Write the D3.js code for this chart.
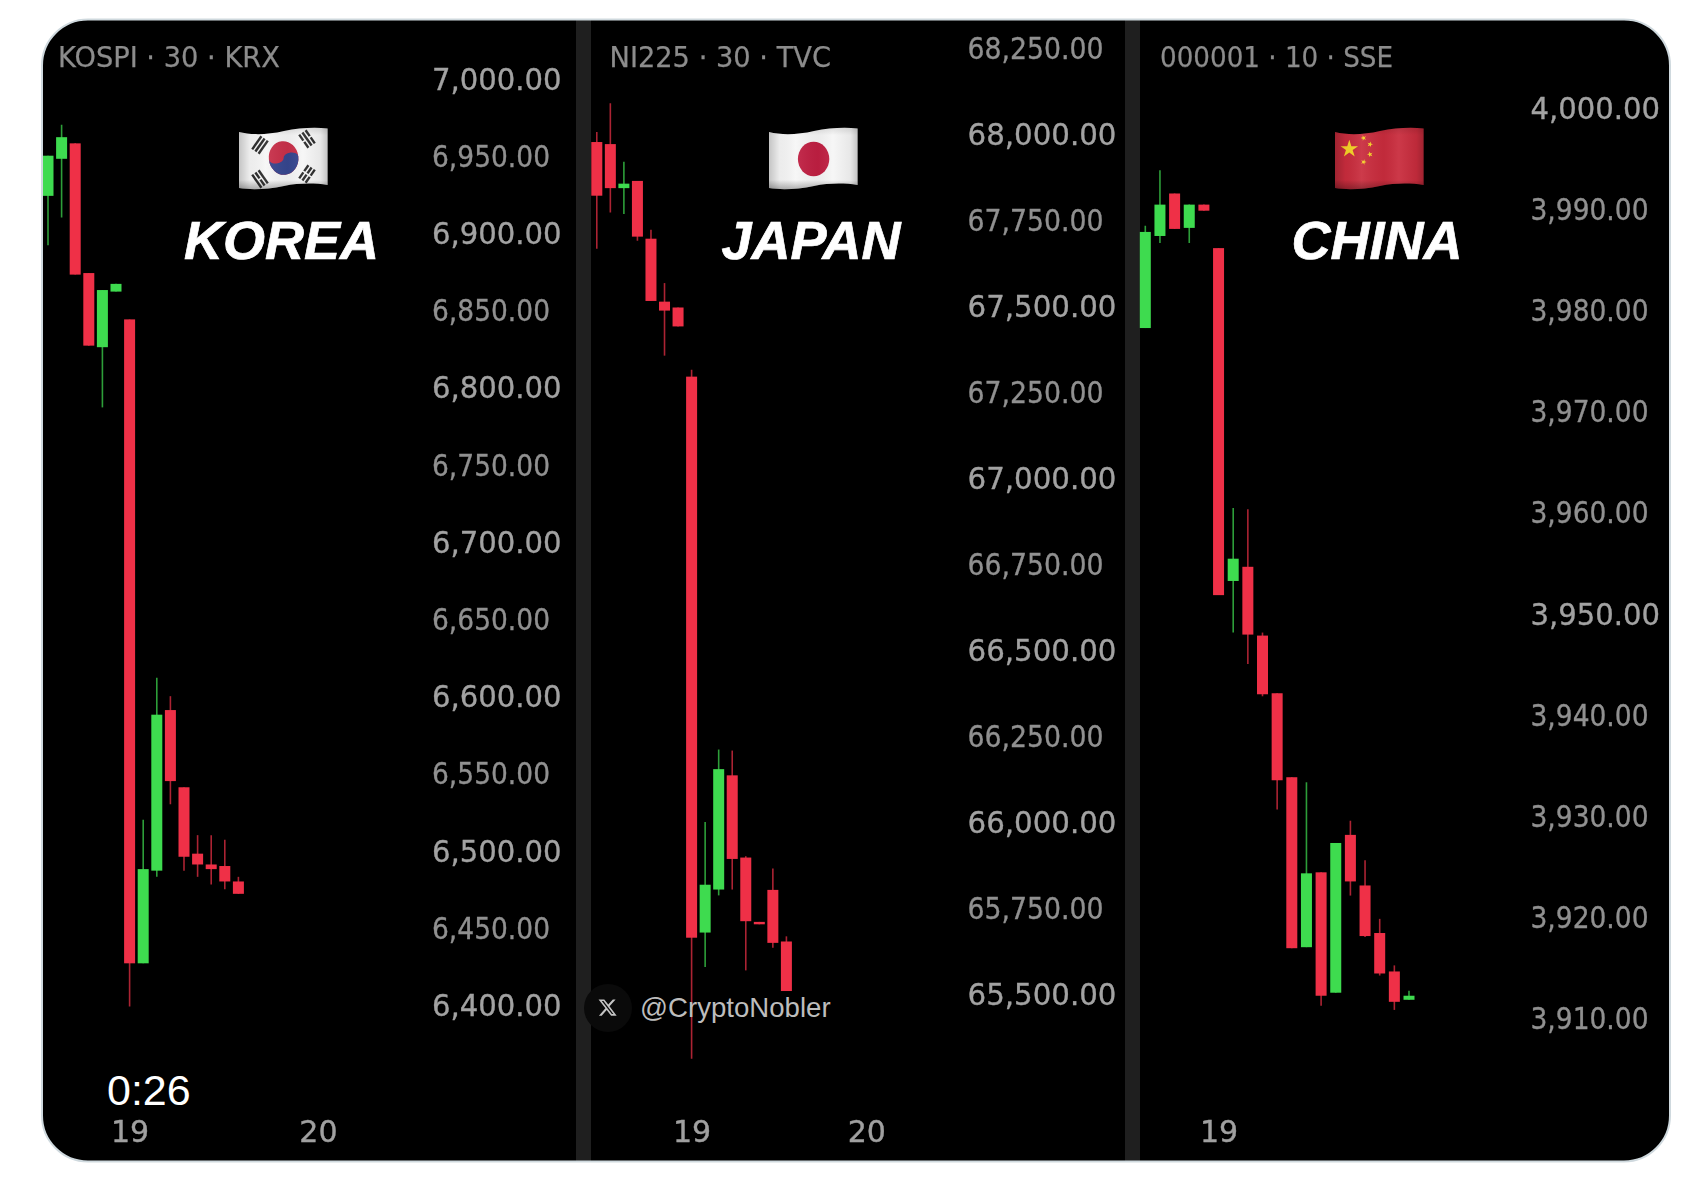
<!DOCTYPE html>
<html>
<head>
<meta charset="utf-8">
<script src="https://cdn.jsdelivr.net/npm/d3@7/dist/d3.min.js"></script>
<style>
  html, body { margin: 0; padding: 0; background: #fff; }
  svg { display: block; }
  text { font-family: "DejaVu Sans", sans-serif; }
  .soft { filter: blur(0.45px); }
</style>
</head>
<body>
<svg id="chart" width="1686" height="1178"></svg>
<script>
// KOSPI 30m
const koreaOpen  = [6924, 6948, 6958, 6874, 6826, 6862, 6844, 6427, 6487, 6591, 6541, 6498, 6491, 6490, 6480]
const koreaClose = [6950, 6962, 6873, 6827, 6863, 6867, 6427, 6488, 6588, 6545, 6496, 6491, 6488, 6480, 6472]
const koreaHigh  = [6950, 6970, 6958, 6874, 6863, 6867, 6844, 6520, 6612, 6600, 6541, 6510, 6510, 6507, 6483]
const koreaLow   = [6892, 6910, 6873, 6827, 6787, 6862, 6399, 6427, 6483, 6530, 6487, 6483, 6478, 6475, 6472]
const koreaTicks = [7000, 6950, 6900, 6850, 6800, 6750, 6700, 6650, 6600, 6550, 6500, 6450, 6400]

// NI225 30m
const japanOpen  = [67981, 67975, 67847, 67868, 67700, 67517, 67500, 67299, 65683, 65808, 66140, 65901, 65714, 65807, 65657]
const japanClose = [67825, 67847, 67860, 67706, 67519, 67491, 67445, 65668, 65822, 66158, 65897, 65716, 65707, 65653, 65513]
const japanHigh  = [68010, 68094, 67924, 67868, 67726, 67571, 67500, 67319, 66004, 66215, 66212, 65905, 65714, 65869, 65672]
const japanLow   = [67671, 67776, 67772, 67694, 67519, 67360, 67445, 65316, 65583, 65791, 65808, 65573, 65707, 65639, 65513]
const japanTicks = [68250, 68000, 67750, 67500, 67250, 67000, 66750, 66500, 66250, 66000, 65750, 65500]

// SSE composite 10m
const chinaOpen  = [3978.2, 3987.3, 3991.5, 3988.1, 3990.4, 3986.1, 3953.2, 3954.6, 3947.8, 3942.1, 3933.8, 3917.0, 3924.4, 3912.5, 3928.1, 3923.1, 3918.4, 3914.6, 3911.8]
const chinaClose = [3987.7, 3990.4, 3988.0, 3990.4, 3989.8, 3951.8, 3955.4, 3947.9, 3942.0, 3933.5, 3916.9, 3924.3, 3912.2, 3927.3, 3923.5, 3918.1, 3914.4, 3911.6, 3912.2]
const chinaHigh  = [3988.3, 3993.8, 3991.5, 3990.4, 3990.4, 3986.1, 3960.4, 3960.3, 3948.1, 3942.1, 3933.8, 3933.3, 3924.4, 3927.3, 3929.5, 3925.6, 3919.8, 3915.2, 3912.7]
const chinaLow   = [3978.2, 3986.6, 3988.0, 3986.6, 3989.8, 3951.8, 3948.1, 3945.0, 3941.8, 3930.6, 3916.9, 3917.0, 3911.2, 3912.5, 3922.1, 3918.0, 3914.2, 3910.8, 3911.8]
const chinaTicks = [4000, 3990, 3980, 3970, 3960, 3950, 3940, 3930, 3920, 3910]

const panels = [
  { name: 'KOREA', header: 'KOSPI · 30 · KRX', headerX: 58, headerW: 222, open: koreaOpen, close: koreaClose, high: koreaHigh, low: koreaLow,
    ticks: koreaTicks, major: 100, domain: [7000, 6400], range: [78.5, 1005], xRange: [48, 238.4],
    axisX: 432, wide: 129.5, narrow: 118, tickDy: '.35em', days: [[6, '19'], [19.85, '20']], titleX: 281.5, flag: 'kr', flagX: 239 },
  { name: 'JAPAN', header: 'NI225 · 30 · TVC', headerX: 609.5, headerW: 221.5, open: japanOpen, close: japanClose, high: japanHigh, low: japanLow,
    ticks: japanTicks, major: 500, domain: [68250, 65500], range: [49.5, 995.5], xRange: [596.8, 786.4],
    axisX: 967.5, wide: 149, narrow: 136, tickDy: '.31em', days: [[7, '19'], [19.9, '20']], titleX: 811, flag: 'jp', flagX: 769 },
  { name: 'CHINA', header: '000001 · 10 · SSE', headerX: 1160, headerW: 233, open: chinaOpen, close: chinaClose, high: chinaHigh, low: chinaLow,
    ticks: chinaTicks, major: 50, domain: [4000, 3910], range: [107.5, 1018], xRange: [1145.3, 1409],
    axisX: 1530.5, wide: 129.5, narrow: 118, tickDy: '.36em', days: [[5, '19']], titleX: 1377, flag: 'cn', flagX: 1335 }
]

const RED = '#ef3047', GREEN = '#3edb4f'
const svg = d3.select('#chart')
const defs = svg.append('defs')

// card
defs.append('clipPath').attr('id', 'card-clip').append('rect')
  .attr('x', 42).attr('y', 19.5).attr('width', 1628).attr('height', 1142).attr('rx', 46)
const card = svg.append('g').attr('clip-path', 'url(#card-clip)')
card.append('rect').attr('x', 42).attr('y', 19.5).attr('width', 1628).attr('height', 1142).attr('fill', '#000')

// dividers between the three clips
card.selectAll('rect.divider').data([[576, 15], [1125, 15]]).enter().append('rect')
  .attr('class', 'divider')
  .attr('x', d => d[0]).attr('width', d => d[1])
  .attr('y', 19.5).attr('height', 1142)
  .attr('fill', '#1f1f1f')

// watermark badge sits under the candles
card.append('circle').attr('cx', 608).attr('cy', 1008).attr('r', 24).attr('fill', '#0a0a0a')

const FLAG_PATH = 'M0,5 C12,8 28,8 45,4 C60,1 75,0 88.6,1.5 L88.6,58 C75,56 60,56 45,59 C28,62.5 12,63 0,61 Z'

const shade = defs.append('linearGradient').attr('id', 'flag-shade')
;[[0, '#000', .2], [.12, '#000', .04], [.3, '#fff', .07], [.55, '#000', .04], [.72, '#fff', .06], [.92, '#000', .06], [1, '#000', .2]]
  .forEach(s => shade.append('stop').attr('offset', s[0]).attr('stop-color', s[1]).attr('stop-opacity', s[2]))
const shadeV = defs.append('linearGradient').attr('id', 'flag-shade-v').attr('x2', 0).attr('y2', 1)
;[[0, '#000', .1], [.12, '#000', 0], [.85, '#000', 0], [1, '#000', .28]]
  .forEach(s => shadeV.append('stop').attr('offset', s[0]).attr('stop-color', s[1]).attr('stop-opacity', s[2]))

const trigram = (g, cx, cy, angle, breaks) => {
  const t = g.append('g').attr('transform', `translate(${cx},${cy}) rotate(${angle})`)
  breaks.forEach((broken, i) => {
    const y = (i - 1) * 3.9 - 1.2
    if (broken) {
      t.append('rect').attr('x', -8).attr('y', y).attr('width', 7.2).attr('height', 2.4).attr('fill', '#2b2b2b')
      t.append('rect').attr('x', 0.8).attr('y', y).attr('width', 7.2).attr('height', 2.4).attr('fill', '#2b2b2b')
    } else {
      t.append('rect').attr('x', -8).attr('y', y).attr('width', 16).attr('height', 2.4).attr('fill', '#2b2b2b')
    }
  })
}

const drawFlag = (kind, x, y) => {
  const g = card.append('g').attr('transform', `translate(${x},${y})`)
  g.append('path').attr('d', FLAG_PATH).attr('fill', kind === 'cn' ? '#c92c3d' : '#f6f6f6')
  if (kind === 'jp') {
    g.append('ellipse').attr('cx', 44.6).attr('cy', 32).attr('rx', 15.7).attr('ry', 17.3).attr('fill', '#c01f42')
  }
  if (kind === 'kr') {
    const t = g.append('g').attr('transform', 'translate(44.6,31) rotate(-6) scale(14.8,16.8)')
    t.append('circle').attr('r', 1).attr('fill', '#c9304a')
    t.append('path').attr('d', 'M-1,0 A1,1 0 0 0 1,0 A.5,.28 0 0 0 0,0 A.5,.28 0 0 1 -1,0 Z').attr('fill', '#36468f')
    trigram(g, 21, 18, -55, [0, 0, 0])
    trigram(g, 68, 12, 55, [1, 0, 1])
    trigram(g, 21, 52, 55, [0, 1, 0])
    trigram(g, 68, 47, -55, [1, 1, 1])
  }
  if (kind === 'cn') {
    const star = d3.symbol().type(d3.symbolStar)
    g.append('path').attr('d', star.size(95)()).attr('transform', 'translate(14.3,22)').attr('fill', '#f5d327')
    ;[[28.6, 11, -20], [35, 17.3, 15], [35, 27.3, -15], [28.6, 35, 20]].forEach(s => {
      g.append('path').attr('d', star.size(10)()).attr('transform', `translate(${s[0]},${s[1]}) rotate(${s[2]})`).attr('fill', '#f5d327')
    })
  }
  g.append('path').attr('d', FLAG_PATH).attr('fill', 'url(#flag-shade)')
  g.append('path').attr('d', FLAG_PATH).attr('fill', 'url(#flag-shade-v)')
}

panels.forEach(p => {
  const x = d3.scaleLinear().domain([0, p.open.length - 1]).range(p.xRange)
  const y = d3.scaleLinear().domain(p.domain).range(p.range)
  const candles = p.open.map((o, i) => ({ i, o, c: p.close[i], h: p.high[i], l: p.low[i] }))
  const color = d => d.c >= d.o ? GREEN : RED

  // wicks then bodies
  const g = card.append('g')
  g.selectAll('line').data(candles).enter().append('line')
    .attr('x1', d => x(d.i)).attr('x2', d => x(d.i))
    .attr('y1', d => y(d.h)).attr('y2', d => y(d.l))
    .attr('stroke', color).attr('stroke-width', 1.6).attr('stroke-opacity', .72)
  g.selectAll('rect').data(candles).enter().append('rect')
    .attr('x', d => x(d.i) - 5.5)
    .attr('width', 11)
    .attr('y', d => y(Math.max(d.o, d.c)))
    .attr('height', d => Math.max(2, Math.abs(y(d.o) - y(d.c))))
    .attr('fill', color)

  // price axis
  const axis = d3.axisRight(y).tickValues(p.ticks).tickSize(0).tickPadding(0).tickFormat(d3.format(',.2f'))
  const ag = card.append('g').attr('class', 'soft').attr('transform', `translate(${p.axisX},0)`).call(axis)
  ag.select('.domain').remove()
  const tickFill = d => d % p.major === 0 ? '#a2a2a2' : '#909090'
  ag.selectAll('text')
    .attr('x', 0)
    .attr('dy', p.tickDy)
    .attr('font-family', '"DejaVu Sans", sans-serif')
    .attr('font-size', 30)
    .attr('fill', tickFill)
    .attr('stroke', tickFill)
    .attr('stroke-width', .35)
    .attr('textLength', d => d % p.major === 0 ? p.wide : p.narrow)
    .attr('lengthAdjust', 'spacingAndGlyphs')

  // day labels
  const dx = d3.axisBottom(x).tickValues(p.days.map(d => d[0])).tickSize(0).tickPadding(0)
    .tickFormat(v => p.days.find(d => d[0] === v)[1])
  const dg = card.append('g').attr('class', 'soft').attr('transform', 'translate(0,1121)').call(dx)
  dg.select('.domain').remove()
  dg.selectAll('text')
    .attr('font-family', '"DejaVu Sans", sans-serif')
    .attr('font-size', 30)
    .attr('fill', '#a0a0a0')
    .attr('stroke', '#a0a0a0')
    .attr('stroke-width', .4)

  // symbol header
  card.append('text').attr('class', 'soft')
    .attr('x', p.headerX).attr('y', 67)
    .attr('font-size', 29)
    .attr('fill', '#8c8c8c')
    .attr('stroke', '#8c8c8c')
    .attr('stroke-width', .25)
    .attr('textLength', p.headerW)
    .attr('lengthAdjust', 'spacingAndGlyphs')
    .text(p.header)

  drawFlag(p.flag, p.flagX, 127)

  card.append('text')
    .attr('x', p.titleX).attr('y', 259)
    .attr('text-anchor', 'middle')
    .style('font-family', '"Liberation Sans", sans-serif')
    .attr('font-size', 54)
    .attr('font-weight', 700)
    .attr('font-style', 'italic')
    .attr('fill', '#fff')
    .attr('stroke', '#fff')
    .attr('stroke-width', .7)
    .text(p.name)
})

// video overlays
card.append('text')
  .attr('x', 107).attr('y', 1105)
  .style('font-family', '"Liberation Sans", sans-serif')
  .attr('font-size', 43)
  .attr('fill', '#fff')
  .text('0:26')

card.append('path')
  .attr('d', 'M18.244 2.25h3.308l-7.227 8.26 8.502 11.24H16.17l-5.214-6.817L4.99 21.75H1.68l7.73-8.835L1.254 2.25H8.08l4.713 6.231zm-1.161 17.52h1.833L7.084 4.126H5.117z')
  .attr('transform', 'translate(597.5,997.5) scale(.84)')
  .attr('fill', '#c4c4c4')
card.append('text')
  .attr('x', 640).attr('y', 1017)
  .style('font-family', '"Liberation Sans", sans-serif')
  .attr('font-size', 27.6)
  .attr('fill', '#bdbdbd')
  .text('@CryptoNobler')

// border on top
svg.append('rect')
  .attr('x', 42).attr('y', 19.5).attr('width', 1628).attr('height', 1142).attr('rx', 46)
  .attr('fill', 'none').attr('stroke', '#cfd9de').attr('stroke-width', 2)
</script>
</body>
</html>
